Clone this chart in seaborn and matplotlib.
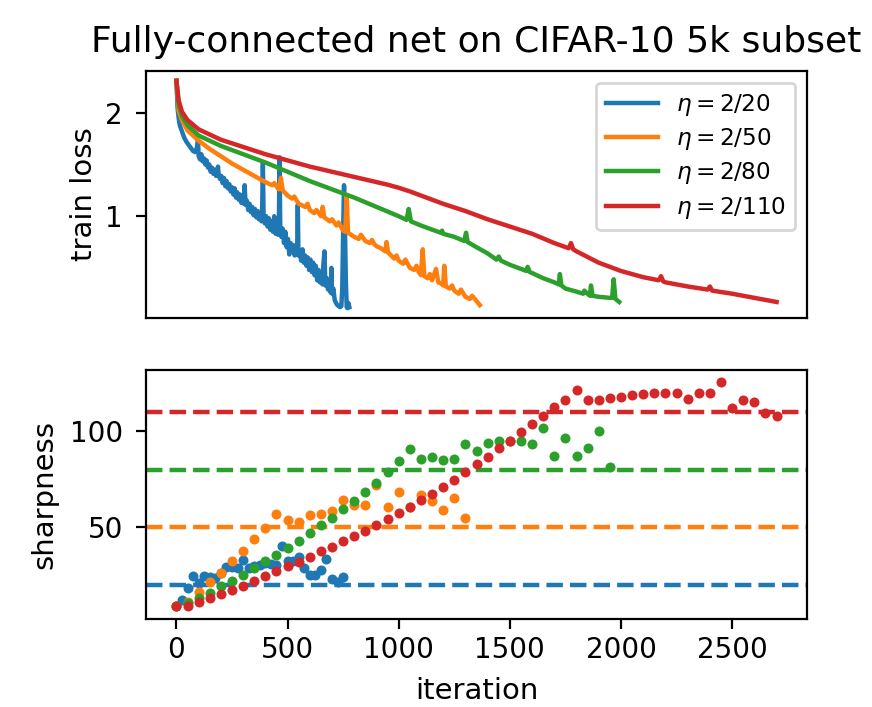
import numpy as np
import pandas as pd
import matplotlib
matplotlib.use("Agg")
import matplotlib.pyplot as plt
import seaborn as sns

# ---------------- data ----------------
labels = [r"$\eta = 2/20$", r"$\eta = 2/50$", r"$\eta = 2/80$", r"$\eta = 2/110$"]
thresholds = [20, 50, 80, 110]
colors = ["#1f77b4", "#ff7f0e", "#2ca02c", "#d62728"]

# train loss curves
loss_x_20 = [0, 5, 10, 15, 25, 35, 45, 55, 65, 75, 85, 92, 97, 100, 106, 112, 118, 124, 130, 136,
             142, 148, 154, 160, 166, 172, 178, 184, 187, 190, 196, 202, 208, 214, 220, 226, 232, 238,
             244, 250, 256, 262, 268, 274, 280, 286, 292, 298, 304, 307, 311, 317, 323, 329, 335, 341,
             347, 353, 359, 365, 371, 377, 383, 386, 389, 392, 398, 404, 410, 416, 422, 428, 434, 440,
             446, 452, 458, 461, 464, 467, 472, 478, 484, 490, 496, 502, 508, 514, 520, 526, 532, 538,
             543, 546, 549, 555, 561, 567, 573, 579, 585, 591, 597, 603, 609, 615, 621, 627, 633, 639,
             645, 651, 657, 660, 666, 670, 676, 682, 688, 694, 697, 700, 706, 712, 718, 724, 730, 736,
             742, 746, 750, 754, 758, 762, 766, 770, 774, 778]
loss_y_20 = [2.31, 2.05, 1.95, 1.88, 1.82, 1.76, 1.72, 1.69, 1.66, 1.63, 1.62, 1.66, 1.73, 1.58,
             1.55, 1.60, 1.53, 1.56, 1.50, 1.54, 1.47, 1.50, 1.43, 1.47, 1.41, 1.45, 1.39, 1.42, 1.48,
             1.40, 1.36, 1.39, 1.32, 1.37, 1.29, 1.34, 1.27, 1.31, 1.24, 1.28, 1.21, 1.27, 1.18, 1.23,
             1.16, 1.21, 1.13, 1.18, 1.12, 1.30, 1.11, 1.15, 1.06, 1.12, 1.04, 1.09, 1.01, 1.07, 0.99,
             1.05, 0.97, 1.03, 0.95, 1.10, 1.52, 1.02, 0.93, 1.00, 0.90, 0.98, 0.87, 0.95, 0.85, 1.00,
             0.83, 0.90, 0.82, 0.95, 1.57, 0.90, 0.80, 0.88, 0.74, 0.85, 0.70, 0.78, 0.63, 0.74, 0.66,
             0.72, 0.62, 0.70, 0.64, 1.11, 0.62, 0.66, 0.57, 0.68, 0.55, 0.62, 0.52, 0.60, 0.48, 0.58,
             0.46, 0.55, 0.43, 0.52, 0.38, 0.48, 0.36, 0.45, 0.34, 0.50, 0.66, 0.33, 0.40, 0.29, 0.36,
             0.26, 0.50, 0.25, 0.30, 0.19, 0.16, 0.14, 0.13, 0.12, 0.13, 0.30, 0.85, 1.30, 0.90, 0.40,
             0.12, 0.11, 0.16, 0.12]

loss_x_50 = [0, 10, 25, 50, 100, 150, 200, 250, 300, 350, 400, 430, 440, 460, 470, 478, 500, 520,
             530, 550, 580, 590, 600, 620, 630, 650, 658, 665, 690, 700, 720, 730, 750, 760, 766, 772,
             800, 820, 830, 850, 870, 880, 890, 900, 920, 940, 945, 952, 980, 990, 1000, 1020, 1030,
             1050, 1070, 1080, 1090, 1100, 1108, 1115, 1130, 1140, 1150, 1168, 1178, 1190, 1200, 1205,
             1212, 1230, 1240, 1250, 1270, 1280, 1300, 1320, 1330, 1350, 1365]
loss_y_50 = [2.31, 2.02, 1.93, 1.83, 1.73, 1.65, 1.58, 1.51, 1.45, 1.39, 1.33, 1.30, 1.32, 1.26,
             1.37, 1.25, 1.20, 1.17, 1.19, 1.12, 1.09, 1.12, 1.06, 1.03, 1.06, 1.00, 1.09, 0.99, 0.95,
             0.97, 0.91, 0.94, 0.86, 0.85, 1.20, 0.84, 0.80, 0.78, 0.82, 0.76, 0.74, 0.77, 0.73, 0.71,
             0.69, 0.66, 0.75, 0.65, 0.59, 0.62, 0.57, 0.54, 0.58, 0.50, 0.48, 0.52, 0.46, 0.43, 0.68,
             0.42, 0.40, 0.44, 0.38, 0.49, 0.36, 0.35, 0.33, 0.52, 0.32, 0.30, 0.33, 0.28, 0.25, 0.29,
             0.22, 0.20, 0.23, 0.18, 0.14]

loss_x_80 = [0, 10, 25, 50, 100, 200, 300, 400, 500, 600, 700, 800, 900, 1000, 1035, 1045, 1055,
             1100, 1150, 1190, 1195, 1200, 1250, 1295, 1303, 1310, 1350, 1400, 1440, 1450, 1460, 1500,
             1550, 1575, 1580, 1590, 1600, 1650, 1700, 1720, 1725, 1732, 1750, 1800, 1830, 1835, 1860,
             1865, 1872, 1900, 1950, 1960, 1967, 1975, 1992]
loss_y_80 = [2.31, 2.08, 1.97, 1.88, 1.78, 1.68, 1.60, 1.52, 1.43, 1.34, 1.26, 1.18, 1.09, 1.00,
             0.965, 1.07, 0.95, 0.91, 0.87, 0.84, 0.86, 0.83, 0.80, 0.76, 0.84, 0.75, 0.70, 0.64, 0.58,
             0.61, 0.57, 0.53, 0.49, 0.47, 0.51, 0.46, 0.45, 0.40, 0.36, 0.34, 0.44, 0.33, 0.30, 0.27,
             0.25, 0.28, 0.23, 0.33, 0.23, 0.22, 0.21, 0.21, 0.39, 0.20, 0.17]

loss_x_110 = [0, 10, 25, 50, 100, 200, 300, 400, 500, 600, 700, 800, 900, 950, 1000, 1050, 1100,
              1200, 1300, 1400, 1500, 1600, 1700, 1765, 1775, 1785, 1800, 1900, 2000, 2100, 2170,
              2180, 2190, 2200, 2300, 2390, 2400, 2410, 2500, 2600, 2700]
loss_y_110 = [2.31, 2.12, 2.01, 1.93, 1.84, 1.74, 1.67, 1.60, 1.54, 1.48, 1.43, 1.38, 1.33, 1.305,
              1.275, 1.24, 1.20, 1.12, 1.05, 0.97, 0.90, 0.83, 0.74, 0.69, 0.74, 0.68, 0.66, 0.55,
              0.47, 0.41, 0.38, 0.42, 0.37, 0.36, 0.32, 0.29, 0.32, 0.28, 0.25, 0.21, 0.17]

# sharpness
sharp_x_20 = [25, 50, 75, 100, 125, 150, 175, 200, 225, 250, 275, 300, 325, 350, 375, 400, 425, 450,
              475, 500, 525, 550, 575, 600, 625, 650, 675, 700, 725, 750]
sharp_y_20 = [12.4, 18.4, 24.8, 21.2, 24.8, 24.1, 23.6, 26.2, 29.5, 29.5, 28.9, 33.2, 28.8, 29.9,
              30.5, 31.4, 30.9, 30.5, 40.5, 32.2, 32.2, 34.5, 28.7, 25.3, 25.3, 27.9, 33.4, 23.0, 21.4,
              24.1]

sharp_x_50 = [0, 50, 100, 150, 200, 250, 300, 350, 400, 450, 500, 550, 600, 650, 700, 750, 800, 850,
              900, 950, 1000, 1050, 1100, 1150, 1200, 1250, 1300]
sharp_y_50 = [9.0, 11.0, 16.1, 21.3, 26.2, 32.2, 37.9, 43.8, 49.8, 56.8, 53.8, 52.9, 56.4, 56.8, 58.6,
              64.2, 61.6, 61.6, 72.0, 60.7, 68.5, 60.5, 66.8, 63.8, 59.0, 65.1, 54.7]

sharp_x_80 = [0, 50, 100, 150, 200, 250, 300, 350, 400, 450, 500, 550, 600, 650, 700, 750, 800, 850,
              900, 950, 1000, 1050, 1100, 1150, 1200, 1250, 1300, 1350, 1400, 1450, 1500, 1550, 1600,
              1650, 1700, 1750, 1800, 1850, 1900, 1950]
sharp_y_80 = [9.3, 10.5, 13.2, 15.8, 19.2, 22.2, 25.3, 28.7, 32.2, 35.6, 39.4, 43.1, 46.9, 51.2, 55.0,
              59.4, 63.8, 68.5, 73.2, 78.9, 84.6, 90.5, 85.3, 86.3, 84.9, 85.5, 93.3, 89.8, 93.9, 94.8,
              94.8, 94.8, 93.1, 101.7, 87.0, 96.5, 87.0, 91.3, 100.0, 81.2]

sharp_x_110 = [0, 50, 100, 150, 200, 250, 300, 350, 400, 450, 500, 550, 600, 650, 700, 750, 800, 850,
               900, 950, 1000, 1050, 1100, 1150, 1200, 1250, 1300, 1350, 1400, 1450, 1500, 1550, 1600,
               1650, 1700, 1750, 1800, 1850, 1900, 1950, 2000, 2050, 2100, 2150, 2200, 2250, 2300,
               2350, 2400, 2450, 2500, 2550, 2600, 2650, 2700]
sharp_y_110 = [8.8, 8.8, 10.9, 13.1, 15.3, 17.5, 19.7, 22.3, 24.4, 27.2, 29.6, 32.0, 34.5, 37.4, 39.8,
               42.6, 45.4, 48.1, 51.4, 54.2, 57.3, 60.7, 64.0, 67.5, 71.1, 74.7, 78.6, 82.7, 86.8,
               91.0, 95.0, 99.3, 103.8, 107.8, 112.3, 116.3, 121.3, 116.1, 116.1, 117.0, 118.0, 118.8,
               119.4, 119.9, 119.9, 119.9, 116.6, 119.6, 119.9, 125.6, 112.1, 116.4, 115.2, 109.2,
               107.8]

loss_xs = [loss_x_20, loss_x_50, loss_x_80, loss_x_110]
loss_ys = [loss_y_20, loss_y_50, loss_y_80, loss_y_110]
sharp_xs = [sharp_x_20, sharp_x_50, sharp_x_80, sharp_x_110]
sharp_ys = [sharp_y_20, sharp_y_50, sharp_y_80, sharp_y_110]

# ---------------- plot ----------------
plt.rcParams["font.family"] = ["DejaVu Sans"]
plt.rcParams["xtick.labelsize"] = 10
plt.rcParams["ytick.labelsize"] = 10
plt.rcParams["xtick.major.pad"] = 2.5
plt.rcParams["ytick.major.pad"] = 4.8
plt.rcParams["axes.labelsize"] = 10.5
DPI = 200
fig = plt.figure(figsize=(872 / DPI, 707 / DPI), dpi=DPI)
ax1 = fig.add_axes([0.1674, 0.5502, 0.7581, 0.3494])
ax2 = fig.add_axes([0.1674, 0.1245, 0.7581, 0.3522], sharex=ax1)

for lab, c, xs, ys in zip(labels, colors, loss_xs, loss_ys):
    df = pd.DataFrame({"iteration": xs, "loss": ys})
    sns.lineplot(data=df, x="iteration", y="loss", ax=ax1, color=c, lw=1.6,
                 label=lab, estimator=None, sort=False)

for lab, c, thr, xs, ys in zip(labels, colors, thresholds, sharp_xs, sharp_ys):
    df = pd.DataFrame({"iteration": xs, "sharpness": ys})
    sns.scatterplot(data=df, x="iteration", y="sharpness", ax=ax2, color=c, s=13,
                    linewidth=0, legend=False, zorder=3)
    ax2.axhline(thr, color=c, ls="--", lw=1.6, zorder=2)

ax1.set_title("Fully-connected net on CIFAR-10 5k subset", fontsize=13, pad=7)
ax1.set_ylabel("train loss", labelpad=2.5)
ax1.set_xlabel("")
ax1.set_yticks([1, 2])
ax1.set_yticklabels(["1", "2"])
ax1.tick_params(axis="x", bottom=False, labelbottom=False)
ax1.legend(loc="upper right", fontsize=8.33, labelspacing=0.36, handlelength=2.25)

ax2.set_ylabel("sharpness", labelpad=4)
ax2.set_xlabel("iteration", labelpad=4.7)
ax2.set_yticks([50, 100])
ax2.set_xticks([0, 500, 1000, 1500, 2000, 2500])
ax2.set_xlim(-137, 2837)
ax1.set_ylim(0.015, 2.405)
ax2.set_ylim(2.3, 131.8)

fig.savefig("out.png", dpi=DPI)
